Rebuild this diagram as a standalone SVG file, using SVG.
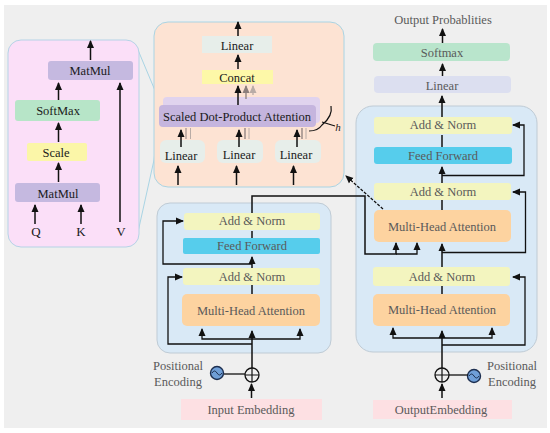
<svg xmlns="http://www.w3.org/2000/svg" width="550" height="433" viewBox="0 0 550 433">
<style>
text{font-family:"Liberation Serif","Times New Roman",serif;text-anchor:middle}
.d{font-size:12.500px;fill:#1a1a1a}
.g{font-size:12.500px;fill:#5a5a5a}
.l{stroke:#111;stroke-width:1.500;fill:none}
.p{stroke:#111;stroke-width:1.300;fill:none}
.an{fill:#f3f5bf}.mh{fill:#fdd3a0}.ff{fill:#56cdec}
.ln{fill:#e7eeea}
</style>
<defs>
<marker id="a" markerUnits="userSpaceOnUse" markerWidth="9" markerHeight="8" refX="7" refY="4" orient="auto"><path d="M0 0.500L8 4L0 7.500Z" fill="#111"/></marker>
<marker id="b" markerUnits="userSpaceOnUse" markerWidth="9" markerHeight="8" refX="7" refY="4" orient="auto"><path d="M0 0.500L8 4L0 7.500Z" fill="#8d7f7c"/></marker>
<marker id="c" markerUnits="userSpaceOnUse" markerWidth="9" markerHeight="8" refX="7" refY="4" orient="auto"><path d="M0 0.500L8 4L0 7.500Z" fill="#b9aca6"/></marker>
</defs>
<rect width="550" height="433" fill="#fff"/>
<rect x="4" y="5" width="543" height="423" fill="#efefef"/>
<g id="zoom-lines" fill="none" stroke="#a9d4e4" stroke-width="1"><path d="M138 50L159 100"/><path d="M158 127L154 160L138 232"/></g>
<g id="panel-scaled-attention">
<rect x="8" y="40" width="131" height="207" rx="13" fill="#fbdff8" stroke="#b5d3e6"/>
<rect x="48" y="61" width="85" height="19" rx="3" fill="#c5b9e0"/><text class="d" x="90" y="75">MatMul</text>
<rect x="15" y="100" width="85" height="21" rx="3" fill="#b7e5c8"/><text class="d" x="58" y="115">SoftMax</text>
<rect x="27" y="143" width="60" height="18" rx="2" fill="#fbf6a8"/><text class="d" x="56" y="157">Scale</text>
<rect x="15" y="183" width="85" height="19" rx="3" fill="#c5b9e0"/><text class="d" x="58" y="198">MatMul</text>
<text class="d" x="36" y="236" style="font-size:13px">Q</text><text class="d" x="81" y="236" style="font-size:13px">K</text><text class="d" x="121" y="236" style="font-size:13px">V</text>
</g>
<g id="panel-multi-head">
<rect x="154" y="22" width="190" height="165" rx="14" fill="#fde3d3" stroke="#a9d4e4"/>
<rect x="202" y="36" width="70" height="17" class="ln"/><text class="d" x="237" y="50">Linear</text>
<rect x="202" y="70" width="71" height="14" fill="#fdf8a8"/><text class="d" x="237" y="82">Concat</text>
<rect x="163" y="97" width="157" height="26" rx="4" fill="#e0d3ee"/>
<rect x="159" y="105" width="157" height="22" rx="4" fill="#c5b5de"/>
<text class="d" x="237" y="121">Scaled Dot-Product Attention</text>
<rect x="160" y="140" width="45" height="23" rx="6" class="ln"/><text class="d" x="181" y="160">Linear</text>
<rect x="217" y="140" width="46" height="23" rx="6" class="ln"/><text class="d" x="239" y="159">Linear</text>
<rect x="275" y="140" width="46" height="23" rx="6" class="ln"/><text class="d" x="296" y="159">Linear</text>
<path d="M309 131Q318 131 322 125Q333 116 331 106M322 122L335 126" fill="none" stroke="#111" stroke-width="1.200"/>
<text x="338" y="131" font-size="11" font-style="italic" fill="#222">h</text>
</g>
<g id="encoder">
<rect x="157" y="203" width="174" height="150" rx="13" fill="#d9e9f6" stroke="#bfcbd5"/>
<rect x="184" y="213" width="136" height="17" rx="3" class="an"/><text class="g" x="252" y="225">Add &amp; Norm</text>
<rect x="183" y="238" width="137" height="16" rx="2" class="ff"/><text class="g" x="252" y="250">Feed Forward</text>
<rect x="183" y="268" width="137" height="17" rx="3" class="an"/><text class="g" x="252" y="281">Add &amp; Norm</text>
<rect x="182" y="294" width="138" height="32" rx="5" class="mh"/><text class="g" x="251" y="315">Multi-Head Attention</text>
</g>
<g id="decoder">
<rect x="356" y="106" width="181" height="246" rx="17" fill="#d9e9f6" stroke="#bfcbd5"/>
<rect x="374" y="117" width="138" height="17" rx="3" class="an"/><text class="g" x="443" y="129">Add &amp; Norm</text>
<rect x="374" y="147" width="138" height="17" rx="3" class="ff"/><text class="g" x="443" y="160">Feed Forward</text>
<rect x="374" y="183" width="137" height="17" rx="3" class="an"/><text class="g" x="443" y="196">Add &amp; Norm</text>
<rect x="374" y="210" width="137" height="32" rx="5" class="mh"/><text class="g" x="442" y="231">Multi-Head Attention</text>
<rect x="373" y="267" width="137" height="19" rx="3" class="an"/><text class="g" x="442" y="281">Add &amp; Norm</text>
<rect x="373" y="294" width="137" height="32" rx="5" class="mh"/><text class="g" x="442" y="314">Multi-Head Attention</text>
</g>
<g id="output-layers">
<rect x="373" y="43" width="137" height="18" rx="4" fill="#b9e5cc"/><text class="g" x="442" y="57">Softmax</text>
<rect x="374" y="76" width="137" height="17" rx="4" fill="#dcdff0"/><text class="g" x="442" y="90">Linear</text>
<text class="g" x="443" y="24">Output Probablities</text>
</g>
<g id="input-embedding"><rect x="181" y="399" width="141" height="21" fill="#fde0e3"/><text class="g" x="251" y="414">Input Embedding</text></g>
<g id="output-embedding"><rect x="373" y="400" width="139" height="19" fill="#fde0e3"/><text class="g" x="441" y="414">OutputEmbedding</text></g>
<g id="pos-enc-left"><text class="g" x="178" y="370">Positional</text><text class="g" x="178" y="386">Encoding</text>
<circle cx="217" cy="373" r="6.500" fill="#6f9fd8" stroke="#1d2f50" stroke-width="1.400"/><path d="M212 373Q214.500 369 217 373T222 373" fill="none" stroke="#1d2f50"/></g>
<g id="pos-enc-right"><text class="g" x="512" y="370">Positional</text><text class="g" x="512" y="386">Encoding</text>
<circle cx="474" cy="376" r="6.500" fill="#6f9fd8" stroke="#1d2f50" stroke-width="1.400"/><path d="M469 376Q471.500 372 474 376T479 376" fill="none" stroke="#1d2f50"/></g>
<g id="adder-left"><circle cx="252" cy="375" r="7" fill="none" stroke="#111" stroke-width="1.300"/><path d="M245 375H259M252 368V382" stroke="#111" stroke-width="1.200"/></g>
<g id="adder-right"><circle cx="442" cy="375" r="7" fill="none" stroke="#111" stroke-width="1.300"/><path d="M435 375H449M442 368V382" stroke="#111" stroke-width="1.200"/></g>
<g id="connectors">
<path class="l" d="M90.500 60V41" marker-end="url(#a)"/>
<path class="l" d="M58.500 100V83" marker-end="url(#a)"/>
<path class="l" d="M58.500 142V123" marker-end="url(#a)"/>
<path class="l" d="M58.500 182V163" marker-end="url(#a)"/>
<path class="l" d="M35 224V205" marker-end="url(#a)"/>
<path class="l" d="M81 224V205" marker-end="url(#a)"/>
<path class="l" d="M120 222V83" marker-end="url(#a)"/>
<path class="l" d="M238 36V22" marker-end="url(#a)"/>
<path class="l" d="M238 69V55" marker-end="url(#a)"/>
<path class="l" d="M238 105V86" marker-end="url(#a)"/>
<path d="M246 99V86" stroke="#8d7f7c" stroke-width="1.300" marker-end="url(#b)"/>
<path d="M253 95V86" stroke="#b9aca6" stroke-width="1.300" marker-end="url(#c)"/>
<path class="l" d="M181 147V130" marker-end="url(#a)"/>
<path class="l" d="M239 147V130" marker-end="url(#a)"/>
<path class="l" d="M297 147V130" marker-end="url(#a)"/>
<path d="M186 139V128" stroke="#8d7f7c" stroke-width="1"/><path d="M190.500 139V128" stroke="#b9aca6" stroke-width="1"/>
<path d="M245 139V128" stroke="#8d7f7c" stroke-width="1.300"/><path d="M249 139V128" stroke="#b9aca6" stroke-width="1"/>
<path d="M302 139V128" stroke="#8d7f7c" stroke-width="1.300"/><path d="M306 139V128" stroke="#b9aca6" stroke-width="1"/>
<path class="l" d="M178 185V166" marker-end="url(#a)"/>
<path class="l" d="M236.500 185V166" marker-end="url(#a)"/>
<path class="l" d="M293.500 185V166" marker-end="url(#a)"/>
<path class="l" d="M252 368V331" marker-end="url(#a)"/>
<path class="l" d="M251.500 398V384" marker-end="url(#a)"/>
<path class="p" d="M252 339H202V329" marker-end="url(#a)"/>
<path class="p" d="M252 339H300V329" marker-end="url(#a)"/>
<path class="p" d="M252 344H168V277H182" marker-end="url(#a)"/>
<path class="l" d="M252 294V285"/>
<path class="l" d="M252 268V257" marker-end="url(#a)"/>
<path class="p" d="M252 264H163V221H183" marker-end="url(#a)"/>
<path class="l" d="M252 238V231"/>
<path class="l" d="M252 213V196H365V254H396V243" marker-end="url(#a)"/>
<path class="p" d="M396 254H417V243" marker-end="url(#a)"/>
<path class="p" d="M224 374H245"/>
<path class="l" d="M442 368V331" marker-end="url(#a)"/>
<path class="l" d="M442 398V384" marker-end="url(#a)"/>
<path class="p" d="M442 338H393V328" marker-end="url(#a)"/>
<path class="p" d="M442 338H492V328" marker-end="url(#a)"/>
<path class="p" d="M442 345H525V277H513" marker-end="url(#a)"/>
<path class="l" d="M442 294V286"/>
<path class="l" d="M442 267V244" marker-end="url(#a)"/>
<path class="p" d="M442 252.500H525.500V192H513" marker-end="url(#a)"/>
<path class="l" d="M442 210V200"/>
<path class="l" d="M442 183V167" marker-end="url(#a)"/>
<path class="p" d="M442 175.500H524V125H513" marker-end="url(#a)"/>
<path class="l" d="M442 147V135"/>
<path class="l" d="M442 117V96" marker-end="url(#a)"/>
<path class="l" d="M442.500 76V64" marker-end="url(#a)"/>
<path class="l" d="M442.500 43V29" marker-end="url(#a)"/>
<path d="M383 209L346 176" fill="none" stroke="#111" stroke-width="1.200" stroke-dasharray="3 1.500" marker-end="url(#a)"/>
<path class="p" d="M449 375H468"/>
</g>
</svg>
